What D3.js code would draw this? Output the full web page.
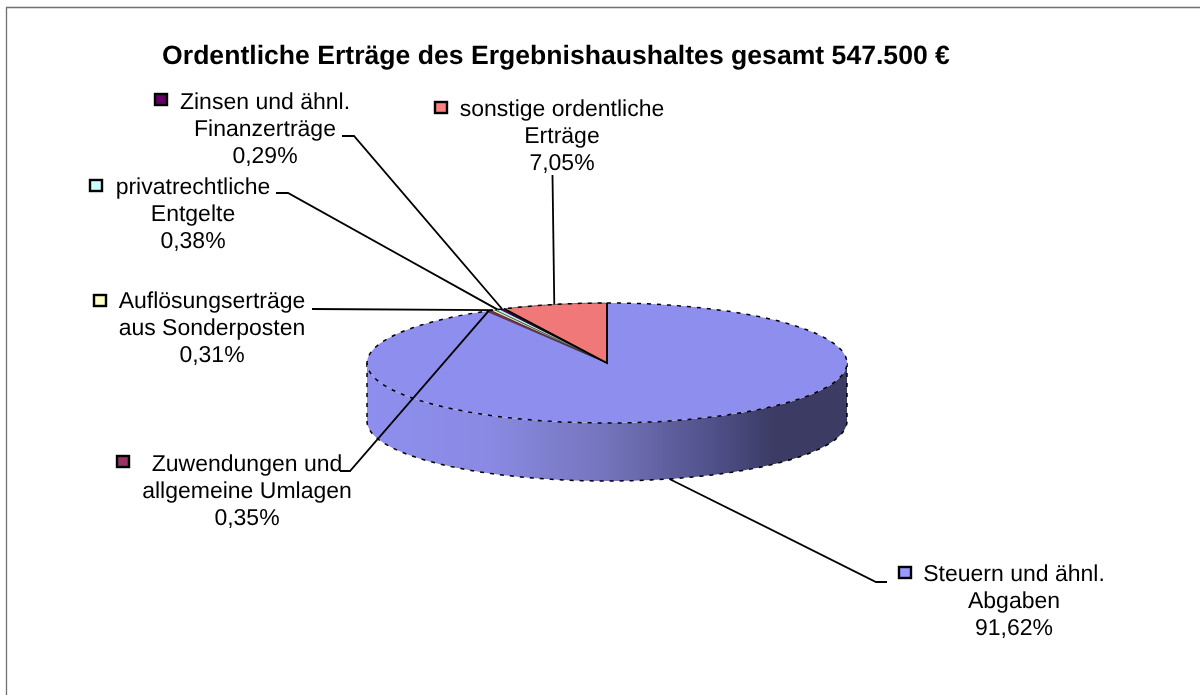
<!DOCTYPE HTML>
<html>
<head>
<meta charset="utf-8">
<title>Ordentliche Erträge</title>
<style>
html, body { margin: 0; padding: 0; background: #fff; }
svg { display: block; filter: blur(0.4px); text-rendering: geometricPrecision; }
text { font-family: "Liberation Sans", Arial, sans-serif; font-size: 23px; fill: #000; text-anchor: middle; }
.title { font-size: 26.6px; font-weight: bold; }
.leader { fill: none; stroke: #000; stroke-width: 1.8px; }
.edge { fill: none; stroke: #000; stroke-width: 1.5px; stroke-dasharray: 4 6; }
.key { stroke: #000; stroke-width: 2.4px; }
</style>
</head>
<body>
<script src="https://cdnjs.cloudflare.com/ajax/libs/d3/7.8.5/d3.min.js"></script>
<script>
var titleText = "Ordentliche Erträge des Ergebnishaushaltes gesamt 547.500 €";

// clockwise from 12 o'clock
var categories = ["Steuern und ähnl. Abgaben", "Zuwendungen und allgemeine Umlagen", "Auflösungserträge aus Sonderposten", "privatrechtliche Entgelte", "Zinsen und ähnl. Finanzerträge", "sonstige ordentliche Erträge"];
var values = [91.62, 0.35, 0.31, 0.38, 0.29, 7.05];
var valueLabels = ["91,62%", "0,35%", "0,31%", "0,38%", "0,29%", "7,05%"];
var keyColors = ["#9999ff", "#993366", "#ffffcc", "#ccffff", "#660066", "#ff8080"];
var faceColors = ["#8e8eee", "#8e2f5e", "#eeeebe", "#beeeee", "#5e005e", "#f07878"];
var labelLines = [
  ["Steuern und ähnl.", "Abgaben"],
  ["Zuwendungen und", "allgemeine Umlagen"],
  ["Auflösungserträge", "aus Sonderposten"],
  ["privatrechtliche", "Entgelte"],
  ["Zinsen und ähnl.", "Finanzerträge"],
  ["sonstige ordentliche", "Erträge"]
];

var width = 1200, height = 695;
var cx = 607, cy = 363, rx = 240, ry = 60, depth = 58;

// label placement: centre x, first baseline, key position, leader elbows
var labelPos = [
  {x: 1014, y: 581, keyX: 899, keyY: 567, elbows: [[876, 582], [887, 582]]},
  {x: 247, y: 471, keyX: 117, keyY: 456, elbows: [[350, 471], [340, 471]]},
  {x: 212, y: 308, keyX: 94, keyY: 295, elbows: [[312, 309]]},
  {x: 193, y: 194, keyX: 90, keyY: 180, elbows: [[288, 193], [276, 193]]},
  {x: 265, y: 109, keyX: 155, keyY: 94, elbows: [[354, 136], [342, 136]]},
  {x: 562, y: 116, keyX: 435, keyY: 102, elbows: [[552.5, 175]]}
];

var svg = d3.select("body").append("svg")
    .attr("width", width)
    .attr("height", height);

// outer frame, only top and left are inside the picture
svg.append("path")
    .attr("d", "M6.5," + height + "V7.5H" + width)
    .attr("fill", "none")
    .attr("stroke", "#707070")
    .attr("stroke-width", 1.3);

svg.append("text")
    .attr("class", "title")
    .attr("x", 556)
    .attr("y", 64)
    .text(titleText);

var grad = svg.append("defs").append("linearGradient")
    .attr("id", "sideGrad")
    .attr("gradientUnits", "userSpaceOnUse")
    .attr("x1", cx - rx).attr("x2", cx + rx)
    .attr("y1", 0).attr("y2", 0);
[[0, "#8e8eee"], [0.25, "#8a8ae4"], [0.5, "#7474bc"], [0.72, "#50508a"], [0.85, "#3b3b64"], [1, "#3b3b64"]].forEach(function(s) {
  grad.append("stop").attr("offset", s[0]).attr("stop-color", s[1]);
});

var xPos = d3.scaleLinear().domain([-1, 1]).range([cx - rx, cx + rx]);
var yPos = d3.scaleLinear().domain([-1, 1]).range([cy - ry, cy + ry]);

function rimX(a) { return xPos(Math.sin(a)); }
function rimY(a) { return yPos(-Math.cos(a)); }

// rim of the ellipse between two pie angles
function rimPoints(a0, a1, dy) {
  var n = 120;
  return d3.range(n + 1).map(function(i) {
    var a = a0 + (a1 - a0) * i / n;
    return [rimX(a), rimY(a) + dy];
  });
}

var line = d3.line();

// side wall, front half of the disc
var wallTop = rimPoints(Math.PI / 2, 3 * Math.PI / 2, 0);
var wallBottom = rimPoints(3 * Math.PI / 2, Math.PI / 2, depth);
svg.append("path")
    .attr("d", line(wallTop.concat(wallBottom)) + "Z")
    .attr("fill", "url(#sideGrad)");
svg.append("path")
    .attr("class", "edge")
    .attr("d", line(wallBottom));
svg.append("path")
    .attr("class", "edge")
    .attr("d", "M" + (cx - rx) + "," + cy + "v" + depth + "M" + (cx + rx) + "," + cy + "v" + depth);

var pie = d3.pie().sort(null).value(function(d) { return d; });
var arcs = pie(values);

// top face
svg.selectAll(".slice")
    .data(arcs)
  .enter().append("path")
    .attr("class", "slice")
    .attr("fill", function(d, i) { return faceColors[i]; })
    .attr("stroke", function(d, i) { return i == 0 ? "none" : "#000"; })
    .attr("stroke-width", 0.5)
    .attr("d", function(d) {
      return line([[cx, cy]].concat(rimPoints(d.startAngle, d.endAngle, 0))) + "Z";
    });

svg.append("path")
    .attr("class", "edge")
    .attr("d", line(rimPoints(0, 2 * Math.PI, 0)));

// dark edges of the sonstige slice
var last = arcs[arcs.length - 1];
svg.append("path")
    .attr("fill", "none")
    .attr("stroke", "#000")
    .attr("stroke-width", 1.8)
    .attr("d", line([[rimX(last.startAngle), rimY(last.startAngle)], [cx, cy], [cx, cy - ry]]));

// leaders go from the middle of each slice's rim
svg.selectAll(".leader")
    .data(arcs)
  .enter().append("path")
    .attr("class", "leader")
    .attr("d", function(d, i) {
      var a = (d.startAngle + d.endAngle) / 2;
      var dy = i == 0 ? depth : 0;
      return line([[rimX(a), rimY(a) + dy]].concat(labelPos[i].elbows));
    });

// labels and legend keys
var labels = svg.selectAll(".label")
    .data(categories)
  .enter().append("g")
    .attr("class", "label");

labels.append("rect")
    .attr("class", "key")
    .attr("x", function(d, i) { return labelPos[i].keyX; })
    .attr("y", function(d, i) { return labelPos[i].keyY; })
    .attr("width", 12)
    .attr("height", 11)
    .attr("fill", function(d, i) { return keyColors[i]; });

labels.each(function(d, i) {
  var g = d3.select(this);
  labelLines[i].concat([valueLabels[i]]).forEach(function(t, j) {
    g.append("text")
      .attr("x", labelPos[i].x)
      .attr("y", labelPos[i].y + j * 27)
      .text(t);
  });
});
</script>
</body>
</html>
